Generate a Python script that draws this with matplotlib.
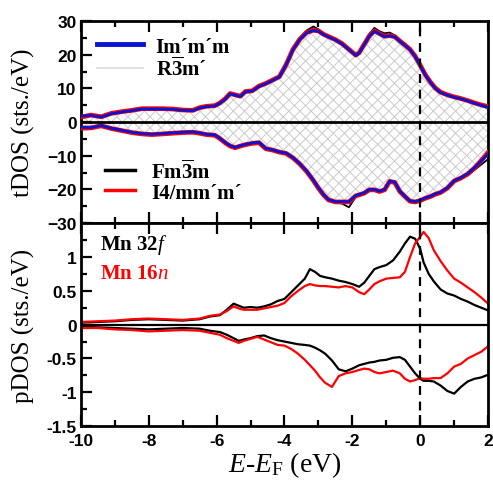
import matplotlib
matplotlib.use("Agg")
import matplotlib.pyplot as plt
from matplotlib.lines import Line2D
from matplotlib.ticker import MultipleLocator
import numpy as np

plt.rcParams['mathtext.fontset'] = 'custom'
plt.rcParams['mathtext.rm'] = 'Liberation Serif'
plt.rcParams['mathtext.it'] = 'Liberation Serif:italic'
plt.rcParams['mathtext.bf'] = 'Liberation Serif:bold'
plt.rcParams['hatch.color'] = '#c8c8c8'
plt.rcParams['hatch.linewidth'] = 0.8

### total DOS (top panel), energy grid in eV
e_tot = [-10, -9.7, -9.4, -9.1, -8.8, -8.5, -8.2, -7.9, -7.6, -7.3, -7.0, -6.7, -6.5, -6.3,
         -6.05, -5.9, -5.75, -5.6, -5.45, -5.3, -5.15, -4.95, -4.75, -4.55, -4.35, -4.15,
         -3.95, -3.75, -3.55, -3.35, -3.15, -3.0, -2.85, -2.7, -2.5, -2.3, -2.1, -1.9, -1.8,
         -1.65, -1.5, -1.35, -1.2, -1.05, -0.9, -0.75, -0.6, -0.45, -0.3, -0.15, 0.0, 0.15,
         0.3, 0.45, 0.6, 0.8, 1.0, 1.2, 1.4, 1.6, 1.8, 2.0]

# Im'm'm (blue)
up_immm = [1.8, 2.0, 1.5, 2.5, 3.0, 3.4, 3.9, 3.9, 3.9, 3.8, 3.5, 3.4, 4.2, 4.6,
           4.8, 5.6, 6.8, 8.4, 8.0, 7.6, 9.0, 9.2, 10.6, 11.4, 12.4, 13.4,
           17.0, 21.5, 24.5, 26.5, 27.2, 27.0, 26.0, 25.3, 24.4, 23.2, 21.5, 19.8, 20.5,
           23.0, 25.5, 27.0, 26.2, 25.4, 25.6, 25.3, 24.0, 22.8, 21.5, 19.5, 16.8, 14.0,
           11.8, 10.0, 8.8, 8.0, 7.4, 6.9, 6.3, 5.6, 5.0, 4.3]
dn_immm = [-1.5, -1.6, -1.0, -1.8, -2.4, -3.0, -3.4, -3.6, -3.4, -3.2, -3.0, -2.9, -3.2, -3.6,
           -3.8, -4.8, -6.0, -7.0, -7.5, -7.0, -6.6, -6.2, -6.0, -7.8, -8.2, -8.8,
           -9.2, -10.5, -12.3, -14.5, -17.2, -19.5, -21.5, -23.0, -23.6, -23.6, -23.6, -21.8, -21.5,
           -21.0, -20.0, -20.0, -20.5, -20.0, -17.5, -17.8, -20.5, -22.0, -23.4, -23.6, -23.2, -22.5,
           -22.0, -21.3, -20.8, -19.5, -17.4, -16.5, -15.3, -13.5, -11.5, -9.4]

# R-3m' (hatched area)
up_r3m = [1.7, 1.9, 1.5, 2.4, 3.0, 3.4, 3.8, 3.9, 3.9, 3.8, 3.5, 3.4, 4.1, 4.5,
          4.8, 5.5, 6.7, 8.3, 8.0, 7.6, 8.9, 9.2, 10.5, 11.3, 12.3, 13.3,
          16.9, 21.4, 24.4, 26.4, 27.1, 26.9, 25.9, 25.2, 24.3, 23.1, 21.4, 19.8, 20.4,
          22.9, 25.4, 26.9, 26.1, 25.3, 25.5, 25.2, 23.9, 22.7, 21.4, 19.4, 16.7, 13.9,
          11.7, 9.9, 8.7, 7.9, 7.3, 6.8, 6.2, 5.5, 4.9, 4.2]
dn_r3m = [-1.4, -1.5, -1.0, -1.7, -2.3, -2.9, -3.3, -3.5, -3.3, -3.1, -2.9, -2.8, -3.1, -3.5,
          -3.7, -4.7, -5.9, -6.9, -7.4, -6.9, -6.5, -6.1, -5.9, -7.7, -8.1, -8.7,
          -9.1, -10.4, -12.2, -14.4, -17.1, -19.4, -21.4, -22.9, -23.5, -23.5, -23.5, -21.7, -21.4,
          -20.9, -19.9, -19.9, -20.4, -19.9, -17.4, -17.7, -20.4, -21.9, -23.3, -23.5, -23.1, -22.4,
          -21.9, -21.2, -20.7, -19.4, -17.3, -16.4, -15.2, -13.4, -11.4, -9.3]

# Fm-3m (black)
up_fm3m = [1.8, 2.0, 1.5, 2.5, 3.0, 3.4, 3.9, 3.9, 3.9, 3.8, 3.5, 3.4, 4.2, 4.6,
           4.8, 5.6, 6.8, 8.5, 8.0, 7.6, 9.0, 9.2, 10.6, 11.4, 12.4, 13.4,
           17.0, 21.8, 25.0, 27.2, 28.4, 27.6, 26.2, 25.3, 24.4, 23.2, 21.5, 19.8, 20.6,
           23.4, 26.2, 28.0, 27.0, 26.4, 26.6, 25.8, 24.0, 22.6, 21.3, 19.4, 16.8, 14.0,
           11.8, 10.0, 8.8, 8.0, 7.4, 6.9, 6.3, 5.6, 5.0, 4.3]
dn_fm3m = [-1.5, -1.6, -1.0, -1.8, -2.4, -3.0, -3.4, -3.6, -3.4, -3.2, -3.0, -2.9, -3.2, -3.6,
           -3.8, -4.8, -6.0, -7.0, -7.5, -7.0, -6.6, -6.2, -6.0, -7.8, -8.2, -8.8,
           -9.2, -10.5, -12.3, -14.5, -17.2, -19.5, -21.5, -23.0, -23.8, -24.2, -25.3, -22.2, -21.5,
           -21.0, -20.0, -20.0, -20.5, -20.0, -17.5, -17.8, -20.5, -22.0, -23.4, -23.8, -23.6, -22.8,
           -22.0, -21.3, -20.8, -19.5, -17.6, -16.8, -15.8, -14.2, -12.6, -11.0]

# I4/mm'm' (red)
up_i4mmm = [1.5, 2.1, 1.6, 2.6, 3.1, 3.5, 4.0, 4.0, 4.0, 3.9, 3.6, 3.5, 4.3, 4.7,
            4.9, 5.7, 6.9, 8.5, 8.1, 7.7, 9.1, 9.3, 10.7, 11.5, 12.5, 13.5,
            17.1, 21.6, 24.6, 26.6, 27.3, 27.1, 26.1, 25.4, 24.5, 23.3, 21.6, 19.9, 20.6,
            23.1, 25.6, 27.1, 26.3, 25.5, 25.7, 25.4, 24.1, 22.9, 21.6, 19.6, 16.9, 14.1,
            11.9, 10.1, 8.9, 8.1, 7.5, 7.0, 6.4, 5.7, 5.1, 4.6]
dn_i4mmm = [-1.8, -1.7, -1.1, -1.9, -2.5, -3.1, -3.5, -3.7, -3.5, -3.3, -3.1, -3.0, -3.3, -3.7,
            -3.9, -4.9, -6.1, -7.1, -7.6, -7.1, -6.7, -6.3, -6.1, -7.9, -8.3, -8.9,
            -9.3, -10.6, -12.4, -14.6, -17.3, -19.6, -21.6, -23.1, -23.7, -23.7, -23.7, -21.9, -21.6,
            -21.1, -20.1, -20.1, -20.6, -20.1, -17.6, -17.9, -20.6, -22.1, -23.5, -23.7, -23.3, -22.6,
            -22.1, -21.4, -20.9, -19.6, -17.5, -16.6, -15.4, -13.6, -11.4, -9.0]

### Mn partial DOS (bottom panel)
e_p = [-10, -9.5, -9, -8.5, -8, -7.5, -7, -6.5, -6.2, -5.9, -5.7, -5.5, -5.35, -5.2, -5.0,
       -4.8, -4.6, -4.4, -4.2, -4.0, -3.8, -3.6, -3.4, -3.25, -3.1, -2.95, -2.8, -2.6, -2.4,
       -2.2, -2.0, -1.8, -1.65, -1.5, -1.35, -1.2, -1.0, -0.8, -0.6, -0.45, -0.3, -0.15, 0.0,
       0.1, 0.25, 0.4, 0.6, 0.8, 1.0, 1.2, 1.4, 1.6, 1.8, 2.0]
up_mn32f = [0.03, 0.04, 0.05, 0.07, 0.08, 0.07, 0.06, 0.08, 0.12, 0.14, 0.22, 0.31, 0.28, 0.25, 0.26,
            0.25, 0.27, 0.30, 0.35, 0.38, 0.48, 0.58, 0.68, 0.82, 0.78, 0.72, 0.70, 0.68, 0.65,
            0.63, 0.60, 0.56, 0.62, 0.72, 0.82, 0.85, 0.88, 0.95, 1.08, 1.20, 1.30, 1.27, 1.12,
            0.92, 0.75, 0.64, 0.52, 0.46, 0.43, 0.38, 0.34, 0.29, 0.25, 0.21]
up_mn16n = [0.04, 0.05, 0.06, 0.08, 0.09, 0.08, 0.07, 0.09, 0.13, 0.15, 0.20, 0.27, 0.24, 0.22, 0.22,
            0.22, 0.24, 0.26, 0.28, 0.32, 0.42, 0.50, 0.57, 0.60, 0.58, 0.57, 0.57, 0.56, 0.55,
            0.57, 0.55, 0.48, 0.45, 0.52, 0.60, 0.64, 0.68, 0.69, 0.70, 0.78, 1.00, 1.20, 1.30,
            1.37, 1.28, 1.10, 0.94, 0.80, 0.68, 0.62, 0.55, 0.48, 0.40, 0.31]
dn_mn32f = [-0.03, -0.04, -0.05, -0.06, -0.07, -0.06, -0.05, -0.06, -0.09, -0.11, -0.15, -0.20, -0.24, -0.22, -0.20,
            -0.17, -0.16, -0.20, -0.23, -0.25, -0.27, -0.29, -0.30, -0.31, -0.34, -0.38, -0.43, -0.53, -0.66,
            -0.69, -0.65, -0.60, -0.58, -0.56, -0.55, -0.53, -0.52, -0.49, -0.48, -0.52, -0.62, -0.72, -0.80,
            -0.83, -0.83, -0.84, -0.90, -0.98, -1.02, -0.92, -0.84, -0.80, -0.78, -0.74]
dn_mn16n = [-0.05, -0.05, -0.07, -0.08, -0.10, -0.09, -0.08, -0.09, -0.12, -0.15, -0.20, -0.24, -0.27, -0.24, -0.21,
            -0.18, -0.22, -0.26, -0.30, -0.31, -0.36, -0.43, -0.52, -0.60, -0.68, -0.78, -0.86, -0.92, -0.76,
            -0.72, -0.70, -0.67, -0.65, -0.66, -0.70, -0.72, -0.70, -0.68, -0.72, -0.80, -0.84, -0.82, -0.79,
            -0.80, -0.80, -0.79, -0.79, -0.72, -0.62, -0.58, -0.50, -0.45, -0.40, -0.32]

serif = 'Liberation Serif'
TICK_SIZE = 12.5


def style_axis(ax):
    ax.tick_params(which='both', direction='in', top=True, right=False, width=1.6,
                   labelsize=TICK_SIZE, pad=3)
    ax.tick_params(axis='x', pad=5)
    ax.tick_params(which='major', length=8)
    ax.tick_params(which='minor', length=4.5)
    for lab in ax.get_xticklabels() + ax.get_yticklabels():
        lab.set_fontfamily('Liberation Sans')
        lab.set_fontweight('bold')
    for s in ax.spines.values():
        s.set_linewidth(2)


fig = plt.figure(figsize=(4.93, 4.81), dpi=100)
ax1 = fig.add_axes([0.164, 0.534, 0.826, 0.420])
ax2 = fig.add_axes([0.164, 0.112, 0.826, 0.422], sharex=ax1)

# top panel: total DOS
ax1.fill_between(e_tot, dn_r3m, up_r3m, facecolor='white', edgecolor='#d0d0d0',
                 hatch='xxx', linewidth=0.6, zorder=1)
ax1.plot(e_tot, up_fm3m, color='black', lw=1.3, zorder=2)
ax1.plot(e_tot, dn_fm3m, color='black', lw=1.3, zorder=2)
ax1.plot(e_tot, up_i4mmm, color='red', lw=3.4, zorder=3)
ax1.plot(e_tot, dn_i4mmm, color='red', lw=3.4, zorder=3)
ax1.plot(e_tot, up_immm, color='#0a14d2', lw=2.0, zorder=4)
ax1.plot(e_tot, dn_immm, color='#0a14d2', lw=2.0, zorder=4)
ax1.axhline(0, color='black', lw=2, zorder=5)
ax1.axvline(0, color='black', lw=1.6, ls=(0, (4, 3)), zorder=5)

ax1.set_xlim(-10, 2)
ax1.set_ylim(-30, 30)
ax1.yaxis.set_major_locator(MultipleLocator(10))
ax1.yaxis.set_minor_locator(MultipleLocator(5))
ax1.set_ylabel('tDOS (sts./eV)', family=serif, fontsize=18)
ax1.yaxis.set_label_coords(-0.113, 0.5)
plt.setp(ax1.get_xticklabels(), visible=False)

leg_font = {'family': serif, 'weight': 'bold', 'size': 15}
h1 = [Line2D([], [], color='#0a14d2', lw=3.5), Line2D([], [], color='#dcdcdc', lw=1.2)]
leg1 = ax1.legend(h1, ['Im\u00b4m\u00b4m', 'R$\\mathbf{\\overline{3}}$m\u00b4'],
                  loc='upper left', bbox_to_anchor=(0.02, 0.965), frameon=False, prop=leg_font,
                  handlelength=2.2, labelspacing=0.0, handletextpad=0.6, borderaxespad=0.0)
ax1.add_artist(leg1)
h2 = [Line2D([], [], color='black', lw=2.5), Line2D([], [], color='red', lw=2.5)]
ax1.legend(h2, ['Fm$\\mathbf{\\overline{3}}$m', 'I4/mm\u00b4m\u00b4'],
           loc='lower left', bbox_to_anchor=(0.04, 0.06), frameon=False, prop=leg_font,
           handlelength=1.4, labelspacing=0.0, handletextpad=0.8, borderaxespad=0.0)

# bottom panel: Mn partial DOS
ax2.plot(e_p, up_mn32f, color='black', lw=1.6)
ax2.plot(e_p, dn_mn32f, color='black', lw=1.6)
ax2.plot(e_p, up_mn16n, color='red', lw=1.6)
ax2.plot(e_p, dn_mn16n, color='red', lw=1.6)
ax2.axhline(0, color='black', lw=1.6)
ax2.axvline(0, color='black', lw=1.6, ls=(0, (4, 3)))
ax2.set_ylim(-1.5, 1.5)
ax2.set_yticks([-1.5, -1, -0.5, 0, 0.5, 1])
ax2.set_yticklabels(['-1.5', '-1', '-0.5', '0', '0.5', '1'])
ax2.yaxis.set_minor_locator(MultipleLocator(0.25))
ax2.set_xticks([-10, -8, -6, -4, -2, 0, 2])
ax2.set_xticklabels(['-10', '-8', '-6', '-4', '-2', '0', '2'])
ax2.xaxis.set_minor_locator(MultipleLocator(1))
ax2.set_ylabel('pDOS (sts./eV)', family=serif, fontsize=18)
ax2.yaxis.set_label_coords(-0.113, 0.5)
ax2.set_xlabel(r'$E$-$E_{\mathrm{F}}$ (eV)', family=serif, fontsize=20)
ax2.xaxis.set_label_coords(0.5, -0.115)
ax2.text(-9.45, 1.19, r'Mn 32$\mathbf{\it{f}}$', family=serif, weight='bold', fontsize=15,
         color='black', va='center')
ax2.text(-9.45, 0.77, r'Mn 16$\mathbf{\it{n}}$', family=serif, weight='bold', fontsize=15,
         color='red', va='center')

style_axis(ax1)
style_axis(ax2)

fig.savefig('out.png', dpi=100)
